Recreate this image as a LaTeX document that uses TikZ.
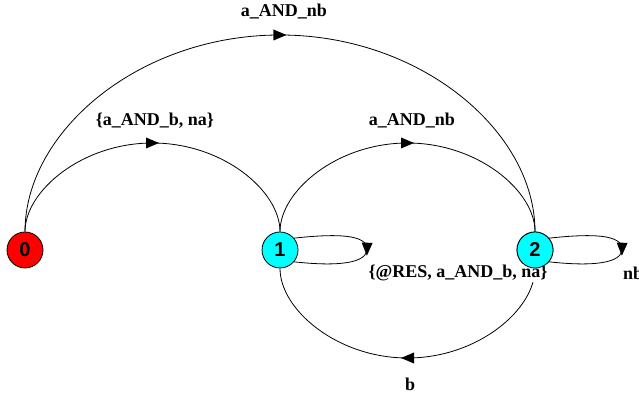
\documentclass[tikz,border=0pt]{standalone}
\usepackage{fontspec}
\setmainfont{Liberation Serif}
\newfontfamily\nodefont{Liberation Sans}
\usetikzlibrary{decorations.markings}
\definecolor{stcyan}{RGB}{0,255,255}
\definecolor{stred}{RGB}{255,0,0}
\tikzset{
  state/.style={circle,draw=black,line width=0.8pt,minimum size=36pt,inner sep=0pt,font=\nodefont\bfseries\fontsize{20}{20}\selectfont},
  lbl/.style={font=\bfseries\fontsize{18}{18}\selectfont,inner sep=1pt},
  edge/.style={line width=0.8pt,draw=black,postaction={decorate},
    decoration={markings,mark=at position 0.5 with {\fill[black] (-6.5pt,-5.5pt) -- (6.5pt,0pt) -- (-6.5pt,5.5pt) -- cycle;}}}
}
\begin{document}
\begin{tikzpicture}[x=1pt,y=1pt]
\useasboundingbox (0,0) rectangle (639,395);
\node[state,fill=stred] (n0) at (25,145) {\raisebox{-1.5pt}{0}};
\node[state,fill=stcyan] (n1) at (280,145) {\raisebox{-1.5pt}{1}};
\node[state,fill=stcyan] (n2) at (535,145) {\raisebox{-1.5pt}{2}};
\coordinate (r1) at (367,146);
\coordinate (r2) at (622,146);
% 0 -> 1
\draw[edge] (n0) .. controls (25,204.1) and (82.1,252) .. (152.5,252) .. controls (222.9,252) and (280,204.1) .. (n1);
% 1 -> 2
\draw[edge] (n1) .. controls (280,204.1) and (337.1,252) .. (407.5,252) .. controls (477.9,252) and (535,204.1) .. (n2);
% 0 -> 2
\draw[edge] (n0) .. controls (25,263.7) and (139.2,360) .. (280,360) .. controls (420.8,360) and (535,263.7) .. (n2);
% 2 -> 1
\draw[edge] (n2) .. controls (535,85.4) and (477.9,37) .. (407.5,37) .. controls (337.1,37) and (280,85.4) .. (n1);
% loops
\draw[edge] (n1.40) .. controls +(45,5) and +(0,14) .. (r1) .. controls +(0,-14) and +(45,-5) .. (n1.-40);
\draw[edge] (n2.40) .. controls +(45,5) and +(0,14) .. (r2) .. controls +(0,-14) and +(45,-5) .. (n2.-40);
% labels
\node[lbl] (l02) at (284,383) {a\_AND\_nb};
\node[lbl] (l01) at (155,274) {\{a\_AND\_b, na\}};
\node[lbl] (l12) at (412,274) {a\_AND\_nb};
\node[lbl,fill=white] (l11) at (458,122) {\{@RES, a\_AND\_b, na\}};
\node[lbl] (l22) at (633,122) {nb};
\node[lbl] (l21) at (410,11) {b};
% redraw node 2 on top of its label
\node[state,fill=stcyan] at (n2) {\raisebox{-1.5pt}{2}};
\end{tikzpicture}
\end{document}
